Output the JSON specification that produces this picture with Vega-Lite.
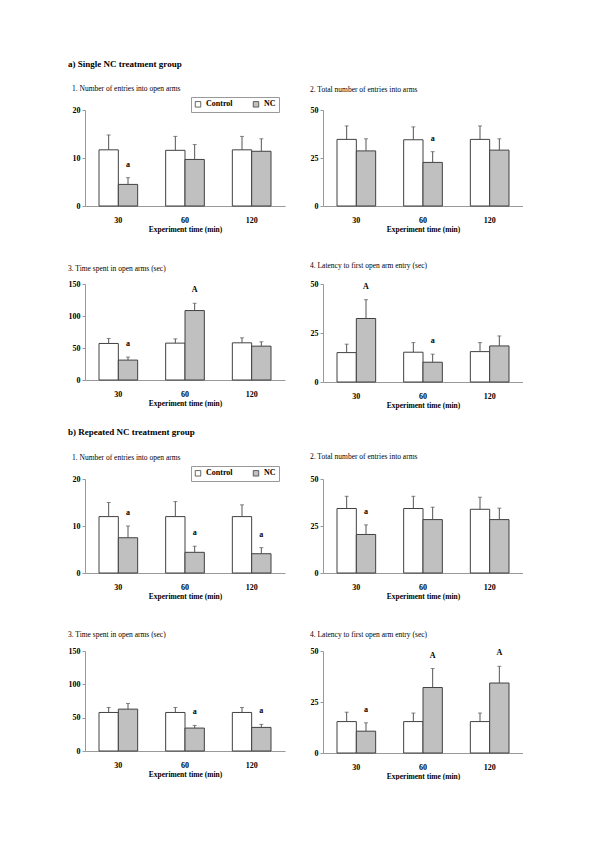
{
  "$schema": "https://vega.github.io/schema/vega-lite/v6.json",
  "background": "white",
  "padding": {"left": 68, "top": 60, "right": 0, "bottom": 0},
  "datasets": {
    "a1": [
      {"time": 30, "group": "Control", "mean": 11.7, "upper": 14.8, "letter": ""},
      {"time": 30, "group": "NC", "mean": 4.5, "upper": 5.9, "letter": "a"},
      {"time": 60, "group": "Control", "mean": 11.6, "upper": 14.5, "letter": ""},
      {"time": 60, "group": "NC", "mean": 9.7, "upper": 12.8, "letter": ""},
      {"time": 120, "group": "Control", "mean": 11.7, "upper": 14.5, "letter": ""},
      {"time": 120, "group": "NC", "mean": 11.4, "upper": 14.0, "letter": ""}
    ],
    "a2": [
      {"time": 30, "group": "Control", "mean": 34.7, "upper": 41.7, "letter": ""},
      {"time": 30, "group": "NC", "mean": 28.7, "upper": 35.0, "letter": ""},
      {"time": 60, "group": "Control", "mean": 34.5, "upper": 41.2, "letter": ""},
      {"time": 60, "group": "NC", "mean": 22.7, "upper": 28.3, "letter": "a"},
      {"time": 120, "group": "Control", "mean": 34.7, "upper": 41.7, "letter": ""},
      {"time": 120, "group": "NC", "mean": 29.1, "upper": 35.0, "letter": ""}
    ],
    "a3": [
      {"time": 30, "group": "Control", "mean": 57.1, "upper": 64.9, "letter": ""},
      {"time": 30, "group": "NC", "mean": 31.1, "upper": 35.8, "letter": "a"},
      {"time": 60, "group": "Control", "mean": 57.6, "upper": 64.3, "letter": ""},
      {"time": 60, "group": "NC", "mean": 108.5, "upper": 119.9, "letter": "A"},
      {"time": 120, "group": "Control", "mean": 58.1, "upper": 65.9, "letter": ""},
      {"time": 120, "group": "NC", "mean": 52.9, "upper": 59.7, "letter": ""}
    ],
    "a4": [
      {"time": 30, "group": "Control", "mean": 15.0, "upper": 19.3, "letter": ""},
      {"time": 30, "group": "NC", "mean": 32.4, "upper": 42.0, "letter": "A"},
      {"time": 60, "group": "Control", "mean": 15.2, "upper": 20.1, "letter": ""},
      {"time": 60, "group": "NC", "mean": 10.1, "upper": 14.2, "letter": "a"},
      {"time": 120, "group": "Control", "mean": 15.5, "upper": 20.1, "letter": ""},
      {"time": 120, "group": "NC", "mean": 18.4, "upper": 23.5, "letter": ""}
    ],
    "b1": [
      {"time": 30, "group": "Control", "mean": 12.0, "upper": 15.0, "letter": ""},
      {"time": 30, "group": "NC", "mean": 7.5, "upper": 10.0, "letter": "a"},
      {"time": 60, "group": "Control", "mean": 12.0, "upper": 15.2, "letter": ""},
      {"time": 60, "group": "NC", "mean": 4.4, "upper": 5.7, "letter": "a"},
      {"time": 120, "group": "Control", "mean": 12.0, "upper": 14.5, "letter": ""},
      {"time": 120, "group": "NC", "mean": 4.1, "upper": 5.4, "letter": "a"}
    ],
    "b2": [
      {"time": 30, "group": "Control", "mean": 34.3, "upper": 40.8, "letter": ""},
      {"time": 30, "group": "NC", "mean": 20.5, "upper": 25.6, "letter": "a"},
      {"time": 60, "group": "Control", "mean": 34.3, "upper": 40.8, "letter": ""},
      {"time": 60, "group": "NC", "mean": 28.4, "upper": 35.0, "letter": ""},
      {"time": 120, "group": "Control", "mean": 33.9, "upper": 40.3, "letter": ""},
      {"time": 120, "group": "NC", "mean": 28.4, "upper": 34.5, "letter": ""}
    ],
    "b3": [
      {"time": 30, "group": "Control", "mean": 57.8, "upper": 65.3, "letter": ""},
      {"time": 30, "group": "NC", "mean": 62.8, "upper": 71.3, "letter": ""},
      {"time": 60, "group": "Control", "mean": 57.8, "upper": 65.3, "letter": ""},
      {"time": 60, "group": "NC", "mean": 34.4, "upper": 38.4, "letter": "a"},
      {"time": 120, "group": "Control", "mean": 57.8, "upper": 65.3, "letter": ""},
      {"time": 120, "group": "NC", "mean": 35.4, "upper": 39.9, "letter": "a"}
    ],
    "b4": [
      {"time": 30, "group": "Control", "mean": 15.4, "upper": 20.0, "letter": ""},
      {"time": 30, "group": "NC", "mean": 10.7, "upper": 14.8, "letter": "a"},
      {"time": 60, "group": "Control", "mean": 15.4, "upper": 19.6, "letter": ""},
      {"time": 60, "group": "NC", "mean": 32.1, "upper": 41.4, "letter": "A"},
      {"time": 120, "group": "Control", "mean": 15.4, "upper": 19.6, "letter": ""},
      {"time": 120, "group": "NC", "mean": 34.3, "upper": 42.5, "letter": "A"}
    ]
  },
  "resolve": {"scale": {"fill": "independent"}, "legend": {"fill": "independent"}},
  "spacing": 18,
  "vconcat": [
    {
      "title": {"text": "a) Single NC treatment group", "fontSize": 9, "fontWeight": "bold", "offset": 16},
      "resolve": {"scale": {"fill": "independent"}, "legend": {"fill": "independent"}},
      "spacing": 28,
      "vconcat": [
        {
          "resolve": {"scale": {"fill": "independent"}, "legend": {"fill": "independent"}},
          "spacing": 25,
          "hconcat": [
            {
              "title": {"text": "1. Number of entries into open arms", "offset": 4},
              "width": 200, "height": 96,
              "data": {"name": "a1"},
              "encoding": {
                "x": {"field": "time", "type": "ordinal", "scale": {"paddingInner": 0.42, "paddingOuter": 0.21}, "axis": {"title": "Experiment time (min)", "labelAngle": 0}},
                "xOffset": {"field": "group", "type": "nominal", "sort": ["Control", "NC"], "scale": {"paddingInner": 0}}
              },
              "layer": [
                {"mark": {"type": "bar", "stroke": "#404040", "strokeWidth": 1},
                 "encoding": {
                   "y": {"field": "mean", "type": "quantitative", "scale": {"domain": [0, 20]}, "axis": {"values": [0, 10, 20], "title": null}},
                   "fill": {"field": "group", "type": "nominal", "scale": {"domain": ["Control", "NC"], "range": ["white", "#c0c0c0"]},
                     "legend": {"orient": "none", "legendX": 106, "legendY": -13, "direction": "horizontal", "title": null, "symbolType": "square", "symbolSize": 30, "symbolStrokeColor": "#404040", "symbolStrokeWidth": 0.8, "labelFontSize": 8, "labelFont": "Liberation Serif", "labelFontWeight": "bold", "labelColor": "black", "strokeColor": "#999999", "padding": 3, "columnPadding": 18}}
                 }},
                {"mark": {"type": "rule", "color": "#555555"}, "encoding": {"y": {"field": "mean", "type": "quantitative", "scale": {"domain": [0, 20]}}, "y2": {"field": "upper"}}},
                {"mark": {"type": "tick", "size": 4, "thickness": 1, "color": "#555555"}, "encoding": {"y": {"field": "upper", "type": "quantitative", "scale": {"domain": [0, 20]}}}},
                {"transform": [{"filter": "datum.letter != ''"}], "mark": {"type": "text", "dy": -13, "fontSize": 8, "fontWeight": "bold", "color": "black"}, "encoding": {"y": {"field": "upper", "type": "quantitative", "scale": {"domain": [0, 20]}}, "text": {"field": "letter"}}}
              ]
            },
            {
              "title": {"text": "2. Total number of entries into arms", "offset": 13},
              "width": 200, "height": 96,
              "data": {"name": "a2"},
              "encoding": {
                "x": {"field": "time", "type": "ordinal", "scale": {"paddingInner": 0.42, "paddingOuter": 0.21}, "axis": {"title": "Experiment time (min)", "labelAngle": 0}},
                "xOffset": {"field": "group", "type": "nominal", "sort": ["Control", "NC"], "scale": {"paddingInner": 0}}
              },
              "layer": [
                {"mark": {"type": "bar", "stroke": "#404040", "strokeWidth": 1},
                 "encoding": {
                   "y": {"field": "mean", "type": "quantitative", "scale": {"domain": [0, 50]}, "axis": {"values": [0, 25, 50], "title": null}},
                   "fill": {"field": "group", "type": "nominal", "scale": {"domain": ["Control", "NC"], "range": ["white", "#c0c0c0"]}, "legend": null}
                 }},
                {"mark": {"type": "rule", "color": "#555555"}, "encoding": {"y": {"field": "mean", "type": "quantitative", "scale": {"domain": [0, 50]}}, "y2": {"field": "upper"}}},
                {"mark": {"type": "tick", "size": 4, "thickness": 1, "color": "#555555"}, "encoding": {"y": {"field": "upper", "type": "quantitative", "scale": {"domain": [0, 50]}}}},
                {"transform": [{"filter": "datum.letter != ''"}], "mark": {"type": "text", "dy": -13, "fontSize": 8, "fontWeight": "bold", "color": "black"}, "encoding": {"y": {"field": "upper", "type": "quantitative", "scale": {"domain": [0, 50]}}, "text": {"field": "letter"}}}
              ]
            }
          ]
        },
        {
          "resolve": {"scale": {"fill": "independent"}, "legend": {"fill": "independent"}},
          "spacing": 25,
          "hconcat": [
            {
              "title": {"text": "3. Time spent in open arms (sec)", "offset": 8},
              "width": 200, "height": 96,
              "data": {"name": "a3"},
              "encoding": {
                "x": {"field": "time", "type": "ordinal", "scale": {"paddingInner": 0.42, "paddingOuter": 0.21}, "axis": {"title": "Experiment time (min)", "labelAngle": 0}},
                "xOffset": {"field": "group", "type": "nominal", "sort": ["Control", "NC"], "scale": {"paddingInner": 0}}
              },
              "layer": [
                {"mark": {"type": "bar", "stroke": "#404040", "strokeWidth": 1},
                 "encoding": {
                   "y": {"field": "mean", "type": "quantitative", "scale": {"domain": [0, 150]}, "axis": {"tickCount": 3, "title": null}},
                   "fill": {"field": "group", "type": "nominal", "scale": {"domain": ["Control", "NC"], "range": ["white", "#c0c0c0"]}, "legend": null}
                 }},
                {"mark": {"type": "rule", "color": "#555555"}, "encoding": {"y": {"field": "mean", "type": "quantitative", "scale": {"domain": [0, 150]}}, "y2": {"field": "upper"}}},
                {"mark": {"type": "tick", "size": 4, "thickness": 1, "color": "#555555"}, "encoding": {"y": {"field": "upper", "type": "quantitative", "scale": {"domain": [0, 150]}}}},
                {"transform": [{"filter": "datum.letter != ''"}], "mark": {"type": "text", "dy": -13, "fontSize": 8, "fontWeight": "bold", "color": "black"}, "encoding": {"y": {"field": "upper", "type": "quantitative", "scale": {"domain": [0, 150]}}, "text": {"field": "letter"}}}
              ]
            },
            {
              "title": {"text": "4. Latency to first open arm entry (sec)", "offset": 11},
              "width": 200, "height": 98,
              "data": {"name": "a4"},
              "encoding": {
                "x": {"field": "time", "type": "ordinal", "scale": {"paddingInner": 0.42, "paddingOuter": 0.21}, "axis": {"title": "Experiment time (min)", "labelAngle": 0}},
                "xOffset": {"field": "group", "type": "nominal", "sort": ["Control", "NC"], "scale": {"paddingInner": 0}}
              },
              "layer": [
                {"mark": {"type": "bar", "stroke": "#404040", "strokeWidth": 1},
                 "encoding": {
                   "y": {"field": "mean", "type": "quantitative", "scale": {"domain": [0, 50]}, "axis": {"values": [0, 25, 50], "title": null}},
                   "fill": {"field": "group", "type": "nominal", "scale": {"domain": ["Control", "NC"], "range": ["white", "#c0c0c0"]}, "legend": null}
                 }},
                {"mark": {"type": "rule", "color": "#555555"}, "encoding": {"y": {"field": "mean", "type": "quantitative", "scale": {"domain": [0, 50]}}, "y2": {"field": "upper"}}},
                {"mark": {"type": "tick", "size": 4, "thickness": 1, "color": "#555555"}, "encoding": {"y": {"field": "upper", "type": "quantitative", "scale": {"domain": [0, 50]}}}},
                {"transform": [{"filter": "datum.letter != ''"}], "mark": {"type": "text", "dy": -13, "fontSize": 8, "fontWeight": "bold", "color": "black"}, "encoding": {"y": {"field": "upper", "type": "quantitative", "scale": {"domain": [0, 50]}}, "text": {"field": "letter"}}}
              ]
            }
          ]
        }
      ]
    },
    {
      "title": {"text": "b) Repeated NC treatment group", "fontSize": 9, "fontWeight": "bold", "offset": 16},
      "resolve": {"scale": {"fill": "independent"}, "legend": {"fill": "independent"}},
      "spacing": 30,
      "vconcat": [
        {
          "resolve": {"scale": {"fill": "independent"}, "legend": {"fill": "independent"}},
          "spacing": 25,
          "hconcat": [
            {
              "title": {"text": "1. Number of entries into open arms", "offset": 4},
              "width": 200, "height": 94,
              "data": {"name": "b1"},
              "encoding": {
                "x": {"field": "time", "type": "ordinal", "scale": {"paddingInner": 0.42, "paddingOuter": 0.21}, "axis": {"title": "Experiment time (min)", "labelAngle": 0}},
                "xOffset": {"field": "group", "type": "nominal", "sort": ["Control", "NC"], "scale": {"paddingInner": 0}}
              },
              "layer": [
                {"mark": {"type": "bar", "stroke": "#404040", "strokeWidth": 1},
                 "encoding": {
                   "y": {"field": "mean", "type": "quantitative", "scale": {"domain": [0, 20]}, "axis": {"values": [0, 10, 20], "title": null}},
                   "fill": {"field": "group", "type": "nominal", "scale": {"domain": ["Control", "NC"], "range": ["white", "#c0c0c0"]},
                     "legend": {"orient": "none", "legendX": 106, "legendY": -13, "direction": "horizontal", "title": null, "symbolType": "square", "symbolSize": 30, "symbolStrokeColor": "#404040", "symbolStrokeWidth": 0.8, "labelFontSize": 8, "labelFont": "Liberation Serif", "labelFontWeight": "bold", "labelColor": "black", "strokeColor": "#999999", "padding": 3, "columnPadding": 18}}
                 }},
                {"mark": {"type": "rule", "color": "#555555"}, "encoding": {"y": {"field": "mean", "type": "quantitative", "scale": {"domain": [0, 20]}}, "y2": {"field": "upper"}}},
                {"mark": {"type": "tick", "size": 4, "thickness": 1, "color": "#555555"}, "encoding": {"y": {"field": "upper", "type": "quantitative", "scale": {"domain": [0, 20]}}}},
                {"transform": [{"filter": "datum.letter != ''"}], "mark": {"type": "text", "dy": -13, "fontSize": 8, "fontWeight": "bold", "color": "black"}, "encoding": {"y": {"field": "upper", "type": "quantitative", "scale": {"domain": [0, 20]}}, "text": {"field": "letter"}}}
              ]
            },
            {
              "title": {"text": "2. Total number of entries into arms", "offset": 15},
              "width": 200, "height": 94,
              "data": {"name": "b2"},
              "encoding": {
                "x": {"field": "time", "type": "ordinal", "scale": {"paddingInner": 0.42, "paddingOuter": 0.21}, "axis": {"title": "Experiment time (min)", "labelAngle": 0}},
                "xOffset": {"field": "group", "type": "nominal", "sort": ["Control", "NC"], "scale": {"paddingInner": 0}}
              },
              "layer": [
                {"mark": {"type": "bar", "stroke": "#404040", "strokeWidth": 1},
                 "encoding": {
                   "y": {"field": "mean", "type": "quantitative", "scale": {"domain": [0, 50]}, "axis": {"values": [0, 25, 50], "title": null}},
                   "fill": {"field": "group", "type": "nominal", "scale": {"domain": ["Control", "NC"], "range": ["white", "#c0c0c0"]}, "legend": null}
                 }},
                {"mark": {"type": "rule", "color": "#555555"}, "encoding": {"y": {"field": "mean", "type": "quantitative", "scale": {"domain": [0, 50]}}, "y2": {"field": "upper"}}},
                {"mark": {"type": "tick", "size": 4, "thickness": 1, "color": "#555555"}, "encoding": {"y": {"field": "upper", "type": "quantitative", "scale": {"domain": [0, 50]}}}},
                {"transform": [{"filter": "datum.letter != ''"}], "mark": {"type": "text", "dy": -13, "fontSize": 8, "fontWeight": "bold", "color": "black"}, "encoding": {"y": {"field": "upper", "type": "quantitative", "scale": {"domain": [0, 50]}}, "text": {"field": "letter"}}}
              ]
            }
          ]
        },
        {
          "resolve": {"scale": {"fill": "independent"}, "legend": {"fill": "independent"}},
          "spacing": 25,
          "hconcat": [
            {
              "title": {"text": "3. Time spent in open arms (sec)", "offset": 9},
              "width": 200, "height": 100,
              "data": {"name": "b3"},
              "encoding": {
                "x": {"field": "time", "type": "ordinal", "scale": {"paddingInner": 0.42, "paddingOuter": 0.21}, "axis": {"title": "Experiment time (min)", "labelAngle": 0}},
                "xOffset": {"field": "group", "type": "nominal", "sort": ["Control", "NC"], "scale": {"paddingInner": 0}}
              },
              "layer": [
                {"mark": {"type": "bar", "stroke": "#404040", "strokeWidth": 1},
                 "encoding": {
                   "y": {"field": "mean", "type": "quantitative", "scale": {"domain": [0, 150]}, "axis": {"tickCount": 3, "title": null}},
                   "fill": {"field": "group", "type": "nominal", "scale": {"domain": ["Control", "NC"], "range": ["white", "#c0c0c0"]}, "legend": null}
                 }},
                {"mark": {"type": "rule", "color": "#555555"}, "encoding": {"y": {"field": "mean", "type": "quantitative", "scale": {"domain": [0, 150]}}, "y2": {"field": "upper"}}},
                {"mark": {"type": "tick", "size": 4, "thickness": 1, "color": "#555555"}, "encoding": {"y": {"field": "upper", "type": "quantitative", "scale": {"domain": [0, 150]}}}},
                {"transform": [{"filter": "datum.letter != ''"}], "mark": {"type": "text", "dy": -13, "fontSize": 8, "fontWeight": "bold", "color": "black"}, "encoding": {"y": {"field": "upper", "type": "quantitative", "scale": {"domain": [0, 150]}}, "text": {"field": "letter"}}}
              ]
            },
            {
              "title": {"text": "4. Latency to first open arm entry (sec)", "offset": 9},
              "width": 200, "height": 102,
              "data": {"name": "b4"},
              "encoding": {
                "x": {"field": "time", "type": "ordinal", "scale": {"paddingInner": 0.42, "paddingOuter": 0.21}, "axis": {"title": "Experiment time (min)", "labelAngle": 0}},
                "xOffset": {"field": "group", "type": "nominal", "sort": ["Control", "NC"], "scale": {"paddingInner": 0}}
              },
              "layer": [
                {"mark": {"type": "bar", "stroke": "#404040", "strokeWidth": 1},
                 "encoding": {
                   "y": {"field": "mean", "type": "quantitative", "scale": {"domain": [0, 50]}, "axis": {"values": [0, 25, 50], "title": null}},
                   "fill": {"field": "group", "type": "nominal", "scale": {"domain": ["Control", "NC"], "range": ["white", "#c0c0c0"]}, "legend": null}
                 }},
                {"mark": {"type": "rule", "color": "#555555"}, "encoding": {"y": {"field": "mean", "type": "quantitative", "scale": {"domain": [0, 50]}}, "y2": {"field": "upper"}}},
                {"mark": {"type": "tick", "size": 4, "thickness": 1, "color": "#555555"}, "encoding": {"y": {"field": "upper", "type": "quantitative", "scale": {"domain": [0, 50]}}}},
                {"transform": [{"filter": "datum.letter != ''"}], "mark": {"type": "text", "dy": -13, "fontSize": 8, "fontWeight": "bold", "color": "black"}, "encoding": {"y": {"field": "upper", "type": "quantitative", "scale": {"domain": [0, 50]}}, "text": {"field": "letter"}}}
              ]
            }
          ]
        }
      ]
    }
  ],
  "config": {
    "font": "Liberation Serif",
    "view": {"stroke": null},
    "axis": {"grid": false, "labelFont": "Liberation Serif", "labelFontSize": 8, "labelFontWeight": "bold", "labelColor": "black", "titleFont": "Liberation Serif", "titleFontSize": 7.5, "titleFontWeight": "bold", "titleColor": "black", "domainColor": "#999999", "tickColor": "#999999"},
    "axisX": {"ticks": false, "labelPadding": 10, "titlePadding": 1},
    "axisY": {"tickSize": 3, "labelPadding": 2, "labelOverlap": false},
    "title": {"font": "Liberation Serif", "fontSize": 7.5, "fontWeight": "normal", "color": "black", "anchor": "start", "frame": "bounds"},
    "text": {"font": "Liberation Serif"}
  }
}
